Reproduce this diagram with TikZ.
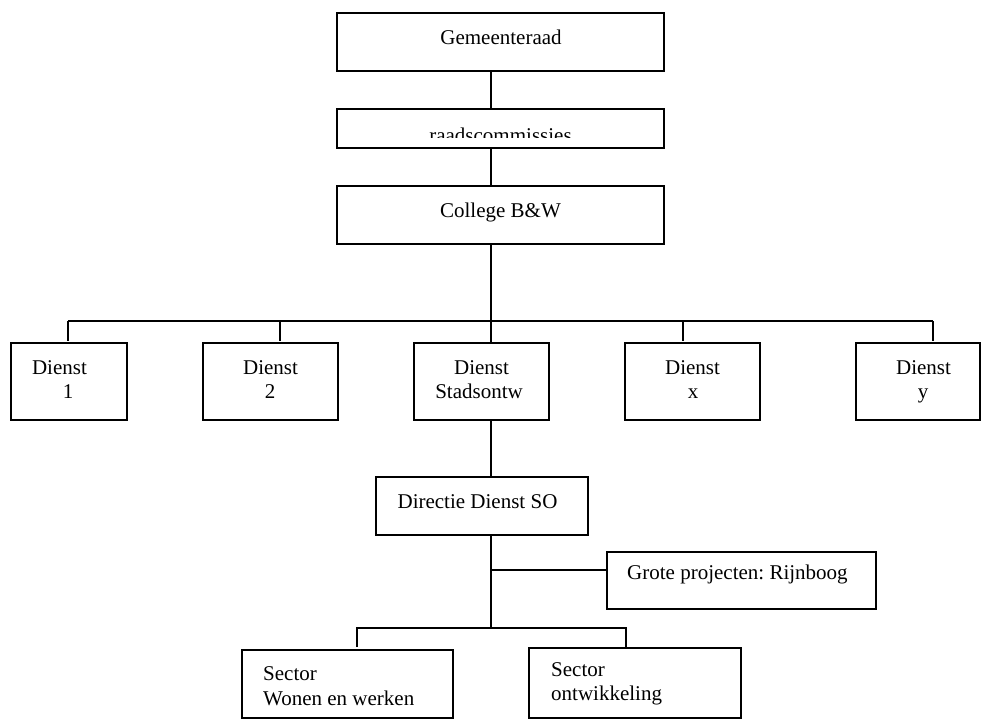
\documentclass[tikz,border=0pt]{standalone}
\usepackage{fontspec}
\setmainfont{Liberation Serif}
\frenchspacing
\begin{document}
\begin{tikzpicture}[x=1pt,y=-1pt,
  box/.style={draw,line width=1.7pt,rectangle,inner sep=0pt,minimum width=#1},
  lbl/.style={inner sep=0pt,font=\fontsize{21}{24}\selectfont},
  link/.style={line width=1.7pt}]
\useasboundingbox (0,0) rectangle (981,720);

% boxes
\node[box=327pt,minimum height=58pt] (gem)  at (500.5,42) {};
\node[box=327pt,minimum height=39pt] (raad) at (500.5,128.5) {};
\node[box=327pt,minimum height=58pt] (coll) at (500.5,215) {};
\node[box=116pt,minimum height=77pt] (d1)   at (69,381.5) {};
\node[box=135pt,minimum height=77pt] (d2)   at (270.5,381.5) {};
\node[box=135pt,minimum height=77pt] (dso)  at (481.5,381.5) {};
\node[box=135pt,minimum height=77pt] (dx)   at (692.5,381.5) {};
\node[box=124pt,minimum height=77pt] (dy)   at (918,381.5) {};
\node[box=212pt,minimum height=58pt] (dir)  at (482,506) {};
\node[box=269pt,minimum height=57pt] (grote) at (741.5,580.5) {};
\node[box=211pt,minimum height=68pt] (swo)  at (347.5,684) {};
\node[box=212pt,minimum height=70pt] (sont) at (635,683) {};

% texts
\node[lbl,anchor=base] (tgem) at (501,44) {Gemeenteraad};
\begin{scope}
  \clip (337,109) rectangle (664,137);
  \node[lbl,anchor=base] (traad) at (500.5,142) {raadscommissies};
\end{scope}
\node[lbl,anchor=base] (tcoll) at (500.5,217) {College B\&W};
\node[lbl,anchor=base] (td1a) at (59.5,374) {Dienst};
\node[lbl,anchor=base] (td1b) at (68,398) {1};
\node[lbl,anchor=base] (td2a) at (270.5,374) {Dienst};
\node[lbl,anchor=base] (td2b) at (270,398) {2};
\node[lbl,anchor=base] (tdsoa) at (481.5,374) {Dienst};
\node[lbl,anchor=base] (tdsob) at (479,398) {Stadsontw};
\node[lbl,anchor=base] (tdxa) at (692.5,374) {Dienst};
\node[lbl,anchor=base] (tdxb) at (693,398) {x};
\node[lbl,anchor=base] (tdya) at (923.5,374) {Dienst};
\node[lbl,anchor=base] (tdyb) at (923,398) {y};
\node[lbl,anchor=base] (tdir) at (477.5,508) {Directie Dienst SO};
\node[lbl,anchor=base west] (tgrote) at (627,579) {Grote projecten: Rijnboog};
\node[lbl,anchor=base west] (tswoa) at (263,680) {Sector};
\node[lbl,anchor=base west] (tswob) at (263,705) {Wonen en werken};
\node[lbl,anchor=base west] (tsonta) at (551,676) {Sector};
\node[lbl,anchor=base west] (tsontb) at (551,700) {ontwikkeling};

% junction points
\coordinate (bus)  at (491,321);
\coordinate (jg)   at (491,570);
\coordinate (bus2) at (491,628);

% connectors
\draw[link] (gem.south -| bus) -- (raad.north -| bus);
\draw[link] (raad.south -| bus) -- (coll.north -| bus);
\draw[link] (coll.south -| bus) -- (dso.north -| bus);
\draw[link] (68,321) -- (933,321);
\draw[link] (68,321) -- (68,341);
\draw[link] (280,321) -- (280,341);
\draw[link] (683,321) -- (683,341);
\draw[link] (933,321) -- (933,341);
\draw[link] (dso.south -| bus) -- (dir.north -| bus);
\draw[link] (dir.south -| bus) -- (bus2);
\draw[link] (jg) -- (grote.west |- jg);
\draw[link] (357,647) |- (bus2) -| (626,647);
\end{tikzpicture}
\end{document}
